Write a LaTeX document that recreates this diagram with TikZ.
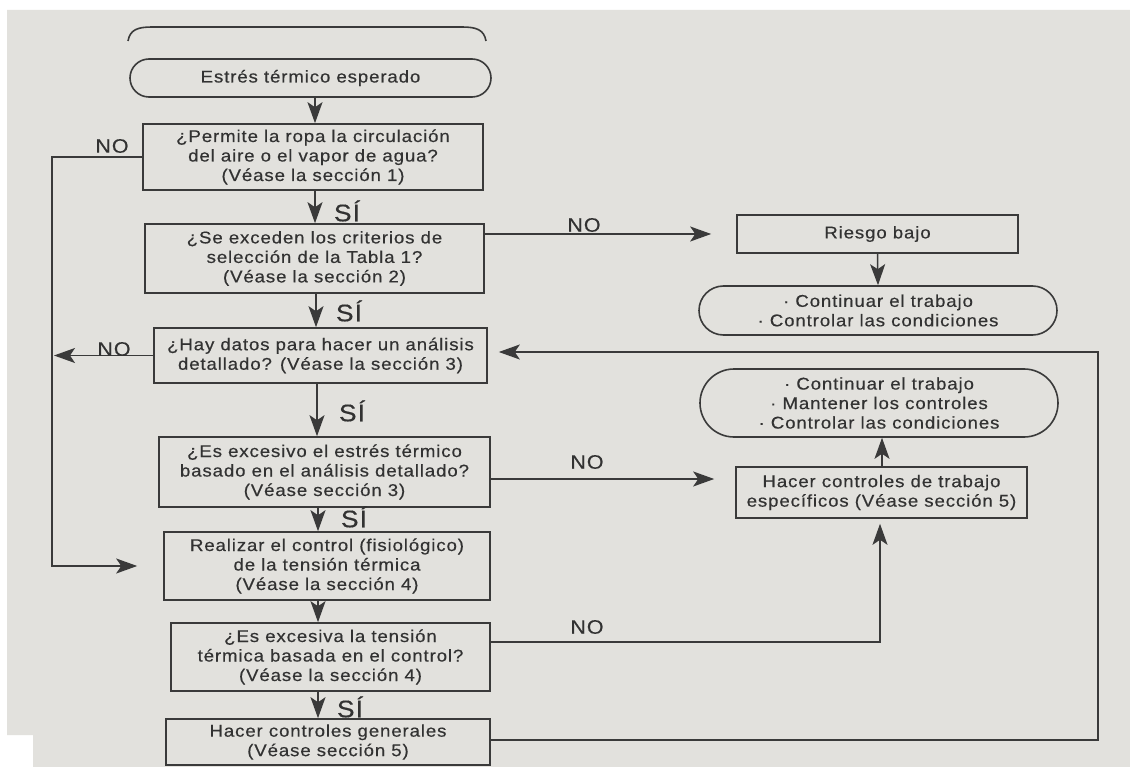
\documentclass[tikz,border=0pt]{standalone}
\usepackage{fontspec}
\usetikzlibrary{shapes.misc,arrows.meta}
\newfontfamily\lsans[LetterSpace=5,FakeStretch=1.1,FakeBold=0.4]{Liberation Sans}
\newcommand\boxfnt{\lsans\fontsize{17}{19.5}\selectfont}
\newcommand\nofnt{\lsans\fontsize{19.5}{21}\selectfont}
\newcommand\sifnt{\lsans\fontsize{24}{25}\selectfont}
\definecolor{paper}{RGB}{226,225,221}
\definecolor{ink}{RGB}{58,58,58}
\definecolor{txt}{RGB}{50,50,50}
\tikzset{
  box/.style={draw=ink, line width=1.6pt, inner sep=0pt, align=center, font=\boxfnt, text=txt},
  rbox/.style={box, rounded rectangle},
  conn/.style={draw=ink, line width=1.5pt},
  arr/.style={conn, -{Stealth[length=21pt,width=15pt,inset=5pt]}},
  nolab/.style={font=\nofnt, text=txt, inner sep=0pt},
  silab/.style={font=\sifnt, text=txt, inner sep=0pt}
}
\begin{document}
\begin{tikzpicture}[x=1pt,y=-1pt]
\useasboundingbox (0,0) rectangle (1130,767);
\fill[white] (0,0) rectangle (1130,767);
\fill[paper] (7,10) -- (1130,10) -- (1130,767) -- (33,767) -- (33,735) -- (7,735) -- cycle;

% cut-off upper shape
\draw[conn, line width=1.6pt] (128,41) .. controls (130,30) and (137,27) .. (152,27) -- (462,27) .. controls (477,27) and (484,30) .. (486,41);

% left column
\node[rbox, minimum width=361pt, minimum height=38pt] (start) at (310.5,78) {Estrés térmico esperado};
\node[box, minimum width=340pt, minimum height=66pt] (b1) at (313,157) {¿Permite la ropa la circulación\\del aire o el vapor de agua?\\(Véase la sección 1)};
\node[box, minimum width=339pt, minimum height=69pt] (b2) at (314.5,258.5) {¿Se exceden los criterios de\\selección de la Tabla 1?\\(Véase la sección 2)};
\node[box, minimum width=333pt, minimum height=55pt] (b3) at (320.5,355.5) {¿Hay datos para hacer un análisis\\detallado? (Véase la sección 3)};
\node[box, minimum width=331pt, minimum height=70pt] (b4) at (324.5,472) {¿Es excesivo el estrés térmico\\basado en el análisis detallado?\\(Véase sección 3)};
\node[box, minimum width=326pt, minimum height=68pt] (b5) at (327,566) {Realizar el control (fisiológico)\\de la tensión térmica\\(Véase la sección 4)};
\node[box, minimum width=319pt, minimum height=68pt] (b6) at (330.5,657) {¿Es excesiva la tensión\\térmica basada en el control?\\(Véase la sección 4)};
\node[box, minimum width=324pt, minimum height=46pt] (b7) at (328,742) {Hacer controles generales\\(Véase sección 5)};

% right column
\node[box, minimum width=281pt, minimum height=38pt] (riesgo) at (877.5,234) {Riesgo bajo};
\node[rbox, minimum width=358pt, minimum height=49pt] (cont1) at (878,310.5) {· Continuar el trabajo\\· Controlar las condiciones};
\node[rbox, minimum width=358pt, minimum height=68pt] (cont2) at (879,403) {· Continuar el trabajo\\· Mantener los controles\\· Controlar las condiciones};
\node[box, minimum width=291pt, minimum height=51pt] (hacer) at (881.5,492.5) {Hacer controles de trabajo\\específicos (Véase sección 5)};

% helper columns / rows
\coordinate (c1) at (315,0);
\coordinate (c2) at (316,0);
\coordinate (c3) at (317,0);
\coordinate (c4) at (318,0);
\coordinate (lc) at (52,0);
\coordinate (hc) at (880,0);
\coordinate (hc2) at (882,0);
\coordinate (rc) at (1098,0);
\coordinate (y3) at (0,352);
\coordinate (y4) at (0,479);
\coordinate (y6) at (0,642);
\coordinate (y7) at (0,740);

% vertical flow
\draw[arr] (start.south -| c1) -- (b1.north -| c1);
\draw[arr] (b1.south -| c1) -- (b2.north -| c1);
\draw[arr] (b2.south -| c2) -- (b3.north -| c2);
\draw[arr] (b3.south -| c3) -- (b4.north -| c3);
\draw[arr] (b4.south -| c4) -- (b5.north -| c4);
\draw[arr] (b5.south -| c4) -- (b6.north -| c4);
\draw[arr] (b6.south -| c4) -- (b7.north -| c4);

\node[silab] (s1) at (347,211) {SÍ};
\node[silab] (s2) at (349,311) {SÍ};
\node[silab] (s3) at (352,411) {SÍ};
\node[silab] (s4) at (354,517) {SÍ};
\node[silab] (s5) at (350,707) {SÍ};

% left loop
\draw[arr, shorten >=26pt] (b1.west) -- (b1.west -| lc) -- (lc |- b5.west) -- (b5.west);
\draw[arr, shorten >=2pt] (b3.west) -- (b3.west -| lc);
\node[nolab] (n1) at (112,146) {NO};
\node[nolab] (n2) at (114,349) {NO};

% right connections
\draw[arr, shorten >=25pt] (riesgo.west -| b2.east) -- (riesgo.west);
\draw[arr] (riesgo.south) -- (cont1.north);
\draw[arr, shorten >=21pt] (b4.east |- y4) -- (hacer.west |- y4);
\draw[arr] (hacer.north -| hc2) -- (cont2.south -| hc2);
\draw[arr, shorten >=5pt] (b6.east |- y6) -- (hc |- y6) -- (hacer.south -| hc);
\draw[arr, shorten >=11pt] (b7.east |- y7) -- (rc |- y7) -- (rc |- y3) -- (b3.east |- y3);
\node[nolab] (n3) at (584,225) {NO};
\node[nolab] (n4) at (587,462) {NO};
\node[nolab] (n5) at (587,627) {NO};
\end{tikzpicture}
\end{document}
